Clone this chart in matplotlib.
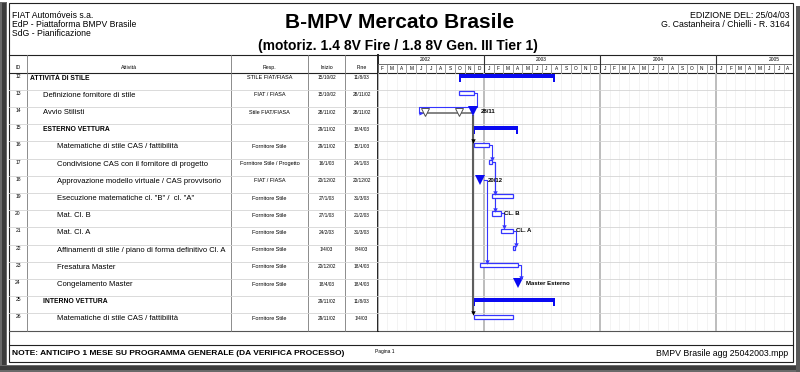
import matplotlib.pyplot as plt
import matplotlib.dates as mdates
from matplotlib.patches import Rectangle
from datetime import datetime

plt.rcParams["font.family"] = ["Liberation Sans", "DejaVu Sans"]

# ---- dati -------------------------------------------------------------
ids = list(range(12, 27))
attivita = [
    "ATTIVITÀ DI STILE",
    "Definizione fornitore di stile",
    "Avvio Stilisti",
    "ESTERNO VETTURA",
    "Matematiche di stile CAS / fattibilità",
    "Condivisione CAS con il fornitore di progetto",
    "Approvazione modello virtuale / CAS provvisorio",
    'Esecuzione matematiche cl. "B" /  cl. "A"',
    "Mat. Cl. B",
    "Mat. Cl. A",
    "Affinamenti di stile / piano di forma definitivo Cl. A",
    "Fresatura Master",
    "Congelamento Master",
    "INTERNO VETTURA",
    "Matematiche di stile CAS / fattibilità",
]
livello = [0, 1, 1, 1, 2, 2, 2, 2, 2, 2, 2, 2, 2, 1, 2]
resp = [
    "STILE FIAT/FIASA", "FIAT / FIASA", "Stile FIAT/FIASA", "",
    "Fornitore Stile", "Fornitore Stile / Progetto", "FIAT / FIASA",
    "Fornitore Stile", "Fornitore Stile", "Fornitore Stile", "Fornitore Stile",
    "Fornitore Stile", "Fornitore Stile", "", "Fornitore Stile",
]
inizio = ["15/10/02", "15/10/02", "28/11/02", "29/11/02", "29/11/02", "16/1/03",
          "20/12/02", "27/1/03", "27/1/03", "24/2/03", "1/4/03", "20/12/02",
          "18/4/03", "29/11/02", "29/11/02"]
fine = ["11/8/03", "28/11/02", "28/11/02", "18/4/03", "15/1/03", "24/1/03",
        "20/12/02", "31/3/03", "21/2/03", "31/3/03", "8/4/03", "18/4/03",
        "18/4/03", "11/8/03", "1/4/03"]
# S = riepilogo, T = attività, M = milestone
tipo = ["S", "T", "M", "S", "T", "T", "M", "T", "T", "T", "T", "T", "M", "S", "T"]
etichette = {14: "28/11", 18: "20/12", 20: "CL. B", 21: "CL. A", 24: "Master Esterno"}
link_blu = [(13, 14), (16, 17), (17, 19), (17, 20), (20, 21), (21, 22), (18, 23), (23, 24)]
succ_grigi = {14: [16, 26]}
vincoli = {14: ["29/6/02", "15/10/02"]}

scala_inizio = "1/2/02"
scala_fine = "27/8/05"
mesi = "JFMAMJJASOND"

# ---- stile ------------------------------------------------------------
BLU = "#0a0af2"
BLU_L = "#3535ff"
RIGA = "#d4d4d4"
W, H = 800, 372
GX0, GX1 = 378, 792          # area gantt (px)
TY0, TY1 = 72.5, 330.5       # righe (px)
RH = (TY1 - TY0) / len(ids)


def d(s):
    return mdates.date2num(datetime.strptime(s, "%d/%m/%y"))


ini_n = [d(s) for s in inizio]
fin_n = [d(s) for s in fine]
x0, x1 = d(scala_inizio), d(scala_fine)
DPX = (x1 - x0) / (GX1 - GX0)


def oy(p):
    return p / RH


def ox(p):
    return p * DPX


def rect(xa, xb, ya, yb):
    return [xa / W, 1 - yb / H, (xb - xa) / W, (yb - ya) / H]


fig = plt.figure(figsize=(8, 3.72), dpi=100)
fig.patch.set_facecolor("white")

bg = fig.add_axes([0, 0, 1, 1])
bg.set_xlim(0, W)
bg.set_ylim(H, 0)
bg.axis("off")

# cornice / ombra
bg.add_patch(Rectangle((0, 2), 7, H, color="#6a6a6a", lw=0))
bg.add_patch(Rectangle((2, 3), 4, H, color="#3c3c3c", lw=0))
bg.add_patch(Rectangle((0, 365), W, 7, color="#6a6a6a", lw=0))
bg.add_patch(Rectangle((0, 366), W, 4, color="#3c3c3c", lw=0))
bg.add_patch(Rectangle((796, 6), 4, H, color="#5a5a5a", lw=0))
bg.add_patch(Rectangle((9, 3), 784, 359, fill=False, ec="#222222", lw=0.8))

# intestazione
for k, t in enumerate(["FIAT Automóveis s.a.", "EdP - Piattaforma BMPV Brasile",
                       "SdG - Pianificazione"]):
    bg.text(12, 15 + k * 9.3, t, fontsize=6.2, va="center", ha="left")
bg.text(790, 15, "EDIZIONE DEL: 25/04/03", fontsize=6.3, va="center", ha="right")
bg.text(790, 24.3, "G. Castanheira / Chielli - R. 3164", fontsize=6.3,
        va="center", ha="right")
bg.text(400, 22.5, "B-MPV Mercato Brasile", fontsize=15, weight="bold",
        ha="center", va="center")
bg.text(398, 46, "(motoriz. 1.4 8V Fire / 1.8 8V Gen. III Tier 1)", fontsize=10,
        weight="bold", ha="center", va="center")

# linee tabella
bg.plot([9, 793], [55, 55], color="#222222", lw=0.8)
bg.plot([9, 793], [TY0, TY0], color="#222222", lw=0.8)
bg.plot([9, 793], [TY1, TY1], color="#555555", lw=0.8)
bg.plot([9, 793], [345, 345], color="#222222", lw=0.8)
for xc in [27, 231, 308, 345]:
    bg.plot([xc, xc], [55, TY1], color="#7a7a7a", lw=0.6)
bg.plot([GX0, GX0], [55, TY1], color="#222222", lw=1.4)
for xc, lab in [(18, "ID"), (129, "Attività"), (269.5, "Resp."),
                (326.5, "Inizio"), (361.5, "Fine")]:
    bg.text(xc, 67.5, lab, fontsize=3.8, ha="center", va="center")

# piè di pagina
bg.text(12, 353.5, "NOTE: ANTICIPO 1 MESE SU PROGRAMMA GENERALE (DA VERIFICA PROCESSO)",
        fontsize=6, weight="bold", va="center", ha="left")
bg.text(375, 351.5, "Pagina 1", fontsize=3.5, va="center", ha="left")
bg.text(788, 353.5, "BMPV Brasile agg 25042003.mpp", fontsize=6.3, va="center",
        ha="right")

# ---- tabella ----------------------------------------------------------
tb = fig.add_axes(rect(9, GX0, TY0, TY1))
tb.set_xlim(9, GX0)
tb.set_ylim(len(ids), 0)
tb.axis("off")
for k in range(1, len(ids)):
    tb.axhline(k, color=RIGA, lw=0.6)
x_liv = [30, 43, 57]
for i in range(len(ids)):
    bold = tipo[i] == "S"
    tb.text(18, i + oy(3.5), str(ids[i]), fontsize=3.6, ha="center", va="center")
    tb.text(x_liv[livello[i]], i + oy(5.5), attivita[i],
            fontsize=4.9 if bold else 5.5, weight="bold" if bold else "normal",
            ha="left", va="center")
    tb.text(269.5, i + oy(5.2), resp[i], fontsize=4, ha="center", va="center")
    tb.text(326.5, i + oy(5.2), inizio[i], fontsize=3.4, ha="center", va="center")
    tb.text(361.5, i + oy(5.2), fine[i], fontsize=3.4, ha="center", va="center")

# ---- scala tempi ------------------------------------------------------
hx = fig.add_axes(rect(GX0, GX1, 55, TY0))
hx.set_xlim(x0, x1)
hx.set_ylim(TY0 - 55, 0)
hx.axis("off")
hx.axhline(8.5, color="#555555", lw=0.6)

ax = fig.add_axes(rect(GX0, GX1, TY0, TY1))
ax.set_xlim(x0, x1)
ax.set_ylim(len(ids), 0)
ax.axis("off")

a0 = datetime.strptime(scala_inizio, "%d/%m/%y")
a1 = datetime.strptime(scala_fine, "%d/%m/%y")
y, m = a0.year, a0.month
while datetime(y, m, 1) <= a1:
    ms = mdates.date2num(datetime(y, m, 1))
    ny, nm = (y + 1, 1) if m == 12 else (y, m + 1)
    me = mdates.date2num(datetime(ny, nm, 1))
    mid = (max(ms, x0) + min(me, x1)) / 2
    hx.text(mid, 13, mesi[m - 1], fontsize=3.4, ha="center", va="center")
    if m == 1:
        hx.plot([ms, ms], [0, TY0 - 55], color="#333333", lw=0.8)
        ax.axvline(ms, color="#b8b8b8", lw=1.3, zorder=0)
    else:
        hx.plot([ms, ms], [8.5, TY0 - 55], color="#777777", lw=0.5)
        ax.axvline(ms, color="#efefef", lw=0.5, zorder=0)
    y, m = ny, nm
for anno in range(a0.year, a1.year + 1):
    hx.text(mdates.date2num(datetime(anno, 7, 1)), 4.6, str(anno), fontsize=3.5,
            ha="center", va="center")

for k in range(1, len(ids)):
    ax.axhline(k, color=RIGA, lw=0.6, zorder=0)

# ---- barre ------------------------------------------------------------
for i in range(len(ids)):
    s, e = ini_n[i], fin_n[i]
    if tipo[i] == "S":
        ax.add_patch(Rectangle((s, i + oy(1.5)), e - s, oy(4), color=BLU, lw=0, zorder=3))
        for xc in (s, e - ox(1.8)):
            ax.add_patch(Rectangle((xc, i + oy(1.5)), ox(1.8), oy(8), color=BLU,
                                   lw=0, zorder=3))
    elif tipo[i] == "T":
        ax.add_patch(Rectangle((s, i + oy(1.2)), e + 1 - s, oy(4.3), fc="white",
                               ec=BLU_L, lw=0.9, zorder=3))
    else:
        ax.plot(s, i + oy(4.5), marker="v", ms=7.5 if ids[i] == 24 else 6.5,
                color=BLU, mew=0, zorder=4)

# vincoli (triangoli vuoti) + linea grigia
for rid, dv in vincoli.items():
    i = ids.index(rid)
    xs = [d(v) for v in dv]
    ax.plot([xs[0] - ox(4), ini_n[i]], [i + oy(6), i + oy(6)], color="#6e6e6e",
            lw=1.2, zorder=2)
    ax.plot(xs, [i + oy(5.5)] * len(xs), ls="none", marker="v", ms=6, mfc="white",
            mec="#505050", mew=0.7, zorder=3)

# collegamenti grigi dalla milestone
for rid, succ in succ_grigi.items():
    i = ids.index(rid)
    xm = ini_n[i]
    last = ids.index(max(succ))
    ax.plot([xm, xm], [i + oy(9), last - oy(1)], color="#5e5e5e", lw=1.5, zorder=2)
    for q in succ:
        ax.plot(xm, ids.index(q) - oy(0.5), marker="v", ms=3.2, color="black",
                mew=0, zorder=5)

# collegamenti blu
for p, q in link_blu:
    ip, iq = ids.index(p), ids.index(q)
    if tipo[ip] == "M":
        xp, yp = fin_n[ip] + ox(4), ip + oy(4.5)
    else:
        xp, yp = fin_n[ip] + 1, ip + oy(3.3)
    if q in vincoli:
        xt = d(vincoli[q][0]) - ox(4)
        xd = xp + ox(3)
        yr = iq + oy(0.3)
        yt = iq + oy(6)
        ax.plot([xp, xd, xd, xt - ox(2), xt - ox(2), xt - ox(1)],
                [yp, yp, yr, yr, yt, yt], color=BLU_L, lw=0.8, zorder=2)
        ax.plot(xt - ox(0.3), yt, marker=">", ms=3, color=BLU_L, mew=0, zorder=5)
        continue
    xd = max(xp, ini_n[iq]) + ox(3)
    yq = iq - oy(0.8) if tipo[iq] == "M" else iq + oy(0.2)
    ax.plot([xp, xd, xd], [yp, yp, yq], color=BLU_L, lw=0.8, zorder=2)
    ax.plot(xd, yq, marker="v", ms=3.2, color=BLU_L, mew=0, zorder=5)

# etichette
for rid, lab in etichette.items():
    i = ids.index(rid)
    if tipo[i] == "M":
        xl, yl = ini_n[i] + ox(8), i + oy(4.3)
    else:
        xl, yl = fin_n[i] + 1 + ox(3.5), i + oy(3.5)
    ax.text(xl, yl, lab, fontsize=4.3, weight="bold", ha="left", va="center", zorder=6)

fig.savefig("out.png", dpi=100, facecolor="white")
